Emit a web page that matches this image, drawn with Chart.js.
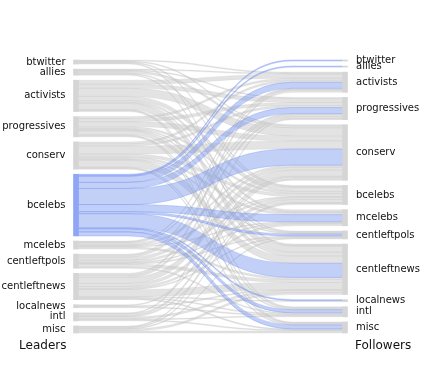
<!DOCTYPE html>
<html lang="en">
<head>
    <meta charset="UTF-8">
    <title>Leaders to Followers</title>
    <style>
        body {
            margin: 0;
            background: #ffffff;
        }

        #wrap {
            width: 423px;
            height: 391px;
        }
    </style>
</head>
<body>
    <div id="wrap"><canvas id="sankey" width="423" height="391"></canvas></div>
    <script src="https://cdn.jsdelivr.net/npm/chart.js"></script>
    <script>
        // Groups, in the same order on both sides
        const groups = ['btwitter', 'allies', 'activists', 'progressives', 'conserv', 'bcelebs',
            'mcelebs', 'centleftpols', 'centleftnews', 'localnews', 'intl', 'misc'];

        // One row per leader group: how much goes to each follower group (same order as groups)
        const fromBtwitter     = [0, 0, 1, 0, 1, 1, 0, 0, 1, 0, 0, 0];
        const fromAllies       = [0, 0, 1, 1, 2, 1, 0, 0, 1, 0, 0, 0];
        const fromActivists    = [0, 0, 4, 4, 8, 4, 2, 1, 6, 0, 1, 1];
        const fromProgressives = [0, 0, 2, 3, 5, 2, 1, 1, 4, 0, 1, 1];
        const fromConserv      = [0, 0, 2, 2, 8, 3, 2, 1, 7, 0, 1, 1];
        const fromBcelebs      = [1, 1, 6, 6, 16, 0, 7, 2, 14, 1, 3, 4];
        const fromMcelebs      = [0, 0, 1, 1, 2, 1, 1, 0, 2, 0, 0, 0];
        const fromCentleftpols = [0, 0, 1, 2, 3, 2, 1, 1, 3, 0, 1, 0];
        const fromCentleftnews = [0, 0, 2, 2, 6, 3, 2, 1, 7, 1, 1, 1];
        const fromLocalnews    = [0, 0, 0, 0, 1, 0, 0, 0, 1, 0, 1, 0];
        const fromIntl         = [0, 0, 0, 1, 2, 1, 0, 0, 2, 0, 1, 1];
        const fromMisc         = [0, 0, 0, 0, 1, 1, 0, 1, 2, 0, 0, 2];

        const highlight = 'bcelebs';
        const sideTitles = ['Leaders', 'Followers'];

        const flows = [fromBtwitter, fromAllies, fromActivists, fromProgressives, fromConserv, fromBcelebs,
            fromMcelebs, fromCentleftpols, fromCentleftnews, fromLocalnews, fromIntl, fromMisc];

        const gap = 5;       // space between nodes, in data units
        const barW = 5;      // node bar width in px

        const sum = arr => arr.reduce((a, b) => a + b, 0);
        const leftSize = flows.map(sum);
        const rightSize = groups.map((g, j) => sum(flows.map(r => r[j])));

        function stackNodes(sizes) {
            let y = 0;
            return sizes.map(s => {
                const n = [y, y + s];
                y += s + gap;
                return n;
            });
        }
        const leftNodes = stackNodes(leftSize);
        const rightNodes = stackNodes(rightSize);
        const yMax = Math.max(leftNodes[leftNodes.length - 1][1], rightNodes[rightNodes.length - 1][1]);

        // build links: ordered by target on the left, by source on the right
        const links = [];
        const leftOff = leftNodes.map(n => n[0]);
        const rightOff = rightNodes.map(n => n[0]);
        groups.forEach((src, i) => {
            groups.forEach((dst, j) => {
                const v = flows[i][j];
                if (!v) return;
                links.push({ src, y0: leftOff[i], y1: rightOff[j], v });
                leftOff[i] += v;
                rightOff[j] += v;
            });
        });

        const flowPlugin = {
            id: 'flows',
            beforeDatasetsDraw(chart) {
                const { ctx, scales: { x, y } } = chart;
                const xa = x.getPixelForValue(0) + barW / 2;
                const xb = x.getPixelForValue(1) - barW / 2;
                const w = xb - xa;
                // flat ends, smooth step across the middle
                const xs = xa + 0.19 * w, xe = xb - 0.19 * w, xm = (xa + xb) / 2;
                const draw = (l, fill, stroke) => {
                    const a0 = y.getPixelForValue(l.y0), a1 = y.getPixelForValue(l.y0 + l.v);
                    const b0 = y.getPixelForValue(l.y1), b1 = y.getPixelForValue(l.y1 + l.v);
                    ctx.beginPath();
                    ctx.moveTo(xa, a0);
                    ctx.lineTo(xs, a0);
                    ctx.bezierCurveTo(xm, a0, xm, b0, xe, b0);
                    ctx.lineTo(xb, b0);
                    ctx.lineTo(xb, b1);
                    ctx.lineTo(xe, b1);
                    ctx.bezierCurveTo(xm, b1, xm, a1, xs, a1);
                    ctx.lineTo(xa, a1);
                    ctx.closePath();
                    ctx.fillStyle = fill;
                    ctx.fill();
                    ctx.lineWidth = 0.6;
                    ctx.strokeStyle = stroke;
                    ctx.stroke();
                };
                ctx.save();
                links.filter(l => l.src !== highlight)
                    .forEach(l => draw(l, 'rgba(200,200,200,0.5)', 'rgba(185,185,185,0.3)'));
                links.filter(l => l.src === highlight)
                    .forEach(l => draw(l, 'rgba(120,150,240,0.45)', 'rgba(110,140,240,0.55)'));
                ctx.restore();
            },
            afterDraw(chart) {
                const { ctx, scales: { x, y } } = chart;
                const lx = x.getPixelForValue(0) - 10.5;
                const rx = x.getPixelForValue(1) + 11;
                ctx.save();
                ctx.fillStyle = '#111111';
                ctx.textBaseline = 'middle';
                ctx.font = '10px "DejaVu Sans"';
                groups.forEach((g, i) => {
                    ctx.textAlign = 'right';
                    ctx.fillText(g, lx, y.getPixelForValue((leftNodes[i][0] + leftNodes[i][1]) / 2));
                    ctx.textAlign = 'left';
                    ctx.fillText(g, rx, y.getPixelForValue((rightNodes[i][0] + rightNodes[i][1]) / 2));
                });
                ctx.font = '12px "DejaVu Sans"';
                const ty = y.getPixelForValue(yMax) + 13;
                ctx.textAlign = 'right';
                ctx.fillText(sideTitles[0], lx + 1, ty);
                ctx.textAlign = 'left';
                ctx.fillText(sideTitles[1], rx - 1, ty);
                ctx.restore();
            }
        };

        // one floating bar dataset per group: [left node, right node]
        const datasets = groups.map((g, i) => ({
            label: g,
            data: [leftNodes[i], rightNodes[i]],
            backgroundColor: c => (c.dataIndex === 0 && g === highlight) ? '#8ea6f5' : '#d5d5d5',
            borderWidth: 0,
            barThickness: barW,
            grouped: false,
            clip: false
        }));

        new Chart(document.getElementById('sankey').getContext('2d'), {
            type: 'bar',
            data: { labels: sideTitles, datasets },
            options: {
                responsive: false,
                animation: false,
                layout: { padding: { left: 76, right: 78, top: 60, bottom: 58 } },
                plugins: { legend: { display: false }, tooltip: { enabled: false } },
                scales: {
                    x: { type: 'category', display: false, offset: false, grid: { offset: false } },
                    y: { display: false, min: 0, max: yMax, reverse: true }
                }
            },
            plugins: [flowPlugin]
        });
    </script>
</body>
</html>
